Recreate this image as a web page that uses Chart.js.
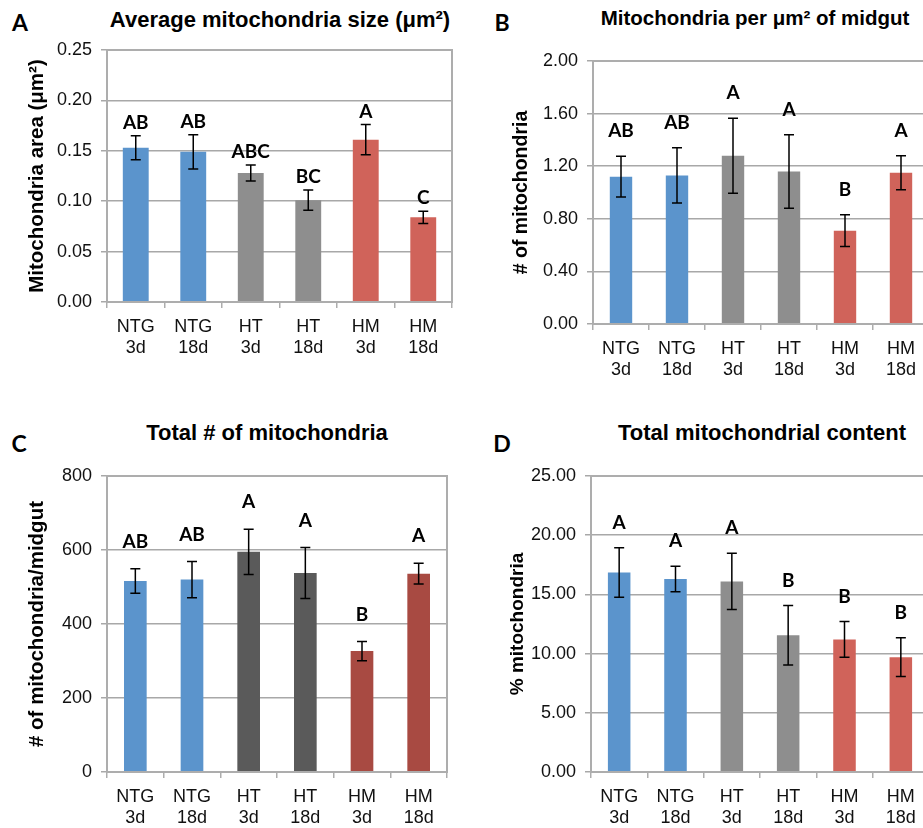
<!DOCTYPE html>
<html>
<head>
<meta charset="utf-8">
<script src="https://cdn.jsdelivr.net/npm/chart.js@4/dist/chart.umd.min.js"></script>
<style>
  body { margin: 0; width: 923px; height: 828px; overflow: hidden; background: #fff; position: relative; }
  canvas { position: absolute; }
  .letter { position: absolute; font: bold 23px Lato, sans-serif; color: #000; transform: translate(-50%, -50%); }
  .title { position: absolute; font: bold 22px "Liberation Sans", Arial, sans-serif; color: #000; transform: translate(-50%, -50%); white-space: nowrap; }
</style>
</head>
<body>
<div class="letter" style="left:20px;top:22px">A</div>
<div class="title" style="left:280px;top:20px">Average mitochondria size (μm²)</div>
<div class="letter" style="left:502px;top:22px">B</div>
<div class="title" style="left:755px;top:18px;font-size:20.5px">Mitochondria per μm² of midgut</div>
<div class="letter" style="left:19px;top:443px">C</div>
<div class="title" style="left:267px;top:433px">Total # of mitochondria</div>
<div class="letter" style="left:502px;top:443px">D</div>
<div class="title" style="left:762px;top:433px">Total mitochondrial content</div>

<canvas id="chartA"></canvas>
<canvas id="chartB"></canvas>
<canvas id="chartC"></canvas>
<canvas id="chartD"></canvas>

<script>
'use strict';

// categories shared by all four panels
var categories = [['NTG', '3d'], ['NTG', '18d'], ['HT', '3d'], ['HT', '18d'], ['HM', '3d'], ['HM', '18d']];

// A - average mitochondria size
var sizeMeans = [0.153, 0.149, 0.128, 0.101, 0.161, 0.084];
var sizeErrors = [0.012, 0.017, 0.008, 0.010, 0.015, 0.006];
var sizeLetters = ['AB', 'AB', 'ABC', 'BC', 'A', 'C'];

// B - mitochondria per um2
var densityMeans = [1.12, 1.13, 1.28, 1.16, 0.71, 1.15];
var densityErrors = [0.155, 0.21, 0.285, 0.28, 0.12, 0.13];
var densityLetters = ['AB', 'AB', 'A', 'A', 'B', 'A'];

// C - total number
var totalMeans = [516, 520, 595, 538, 327, 536];
var totalErrors = [33, 49, 61, 69, 26, 28];
var totalLetters = ['AB', 'AB', 'A', 'A', 'B', 'A'];

// D - total content %
var contentMeans = [16.85, 16.3, 16.1, 11.55, 11.2, 9.7];
var contentErrors = [2.1, 1.08, 2.37, 2.52, 1.51, 1.64];
var contentLetters = ['A', 'A', 'A', 'B', 'B', 'B'];

var blue = '#5b94cc';
var grey = '#8e8e8e';
var red = '#d0635a';
var darkGrey = '#5a5a5a';
var darkRed = '#a84a42';
var frameColor = '#adadad';

var tickFont = { family: '"Liberation Sans", Arial, sans-serif', size: 18 };

// error bars + significance letters + plot frame
var extrasPlugin = {
  id: 'extras',
  afterDatasetsDraw: function(chart, args, opts) {
    var ctx = chart.ctx;
    var meta = chart.getDatasetMeta(0);
    var yScale = chart.scales.y;
    var area = chart.chartArea;

    ctx.save();
    ctx.strokeStyle = frameColor;
    ctx.lineWidth = 2;
    ctx.strokeRect(area.left, area.top, area.right - area.left, area.bottom - area.top);

    ctx.strokeStyle = '#000';
    ctx.lineWidth = 1.5;
    for (var i = 0; i < opts.means.length; i++) {
      var x = meta.data[i].x;
      var yHi = yScale.getPixelForValue(opts.means[i] + opts.errors[i]);
      var yLo = yScale.getPixelForValue(opts.means[i] - opts.errors[i]);
      ctx.beginPath();
      ctx.moveTo(x, yHi);
      ctx.lineTo(x, yLo);
      ctx.moveTo(x - 5, yHi);
      ctx.lineTo(x + 5, yHi);
      ctx.moveTo(x - 5, yLo);
      ctx.lineTo(x + 5, yLo);
      ctx.stroke();

      ctx.fillStyle = '#000';
      ctx.font = 'bold 19px Lato, sans-serif';
      ctx.textAlign = 'center';
      ctx.textBaseline = 'middle';
      ctx.fillText(opts.letters[i], x, yHi - opts.letterGap);
    }
    ctx.restore();
  }
};

function makeChart(id, cfg) {
  var canvas = document.getElementById(id);
  var canvasLeft = cfg.panelLeft;
  var canvasTop = cfg.area.top - 30;
  var width = cfg.area.right + 20 - canvasLeft;
  var height = cfg.area.bottom - canvasTop + 70;
  canvas.width = width;
  canvas.height = height;
  canvas.style.left = canvasLeft + 'px';
  canvas.style.top = canvasTop + 'px';

  return new Chart(canvas.getContext('2d'), {
    type: 'bar',
    data: {
      labels: categories,
      datasets: [{
        data: cfg.means,
        backgroundColor: cfg.colors,
        barPercentage: cfg.barPct,
        categoryPercentage: 1
      }]
    },
    options: {
      responsive: false,
      animation: false,
      layout: { padding: { top: 30, left: 0, right: 20, bottom: 10 } },
      plugins: {
        legend: { display: false },
        tooltip: { enabled: false },
        extras: { means: cfg.means, errors: cfg.errors, letters: cfg.letters, letterGap: cfg.letterGap }
      },
      scales: {
        x: {
          offset: true,
          grid: { offset: true, drawOnChartArea: false, tickLength: 6, color: frameColor, lineWidth: 1.5 },
          border: { color: frameColor, width: 2 },
          ticks: { color: '#111', font: tickFont, padding: 8, maxRotation: 0 },
          afterFit: function(scale) { scale.height = 60; }
        },
        y: {
          min: cfg.min,
          max: cfg.max,
          ticks: {
            stepSize: cfg.step,
            color: '#111',
            font: tickFont,
            padding: 9,
            callback: function(v) { return v.toFixed(cfg.decimals); }
          },
          grid: { color: '#a8a8a8', lineWidth: 1.5, tickLength: 6 },
          border: { color: frameColor, width: 2 },
          title: {
            display: true,
            text: cfg.yTitle,
            color: '#000',
            font: { family: '"Liberation Sans", Arial, sans-serif', size: cfg.yTitleSize, weight: 'bold' },
            padding: { top: cfg.yTitlePad, bottom: 0 }
          },
          afterFit: function(scale) { scale.width = cfg.area.left - canvasLeft; }
        }
      }
    },
    plugins: [extrasPlugin]
  });
}

makeChart('chartA', {
  panelLeft: 0,
  area: { left: 107, top: 50, right: 452, bottom: 302 },
  means: sizeMeans, errors: sizeErrors, letters: sizeLetters,
  colors: [blue, blue, grey, grey, red, red],
  barPct: 0.45, letterGap: 13,
  min: 0, max: 0.25, step: 0.05, decimals: 2,
  yTitle: 'Mitochondria area (μm²)', yTitleSize: 20.5, yTitlePad: 25
});

makeChart('chartB', {
  panelLeft: 460,
  area: { left: 593, top: 61, right: 929, bottom: 324 },
  means: densityMeans, errors: densityErrors, letters: densityLetters,
  colors: [blue, blue, grey, grey, red, red],
  barPct: 0.4, letterGap: 25,
  min: 0, max: 2, step: 0.4, decimals: 2,
  yTitle: '# of mitochondria', yTitleSize: 19.5, yTitlePad: 50
});

makeChart('chartC', {
  panelLeft: 0,
  area: { left: 107, top: 476, right: 447, bottom: 772 },
  means: totalMeans, errors: totalErrors, letters: totalLetters,
  colors: [blue, blue, darkGrey, darkGrey, darkRed, darkRed],
  barPct: 0.4, letterGap: 27,
  min: 0, max: 800, step: 200, decimals: 0,
  yTitle: '# of mitochondria/midgut', yTitleSize: 20.5, yTitlePad: 25
});

makeChart('chartD', {
  panelLeft: 460,
  area: { left: 591, top: 476, right: 929, bottom: 772 },
  means: contentMeans, errors: contentErrors, letters: contentLetters,
  colors: [blue, blue, grey, grey, red, red],
  barPct: 0.4, letterGap: 25,
  min: 0, max: 25, step: 5, decimals: 2,
  yTitle: '% mitochondria', yTitleSize: 19, yTitlePad: 46
});
</script>
</body>
</html>
